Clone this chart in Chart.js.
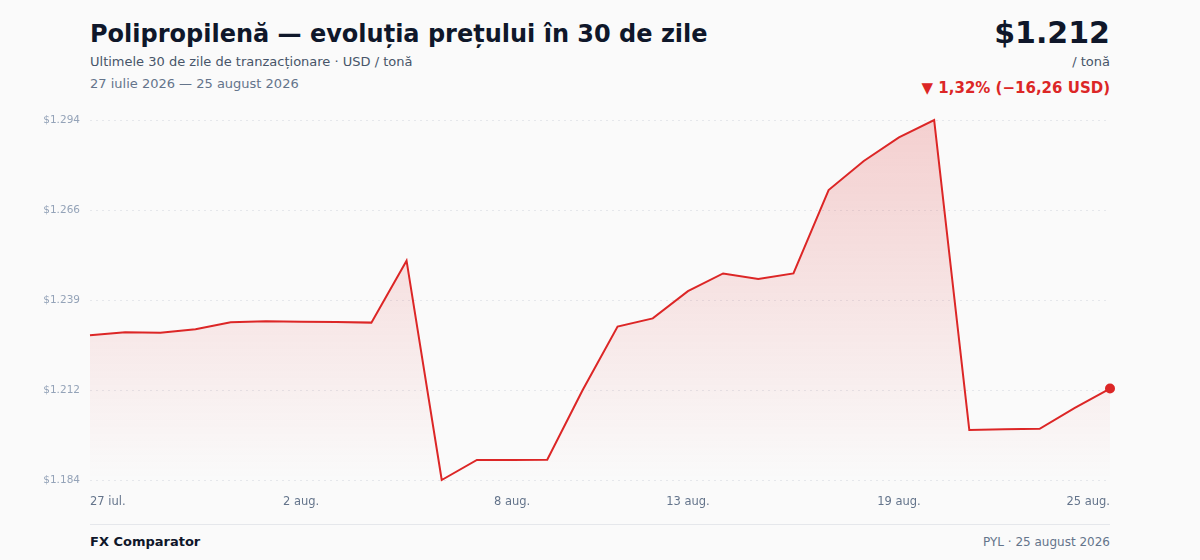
<!DOCTYPE html>
<html lang="ro">
<head>
<meta charset="utf-8">
<title>Polipropilenă — evoluția prețului</title>
<script src="https://cdn.jsdelivr.net/npm/chart.js@4.4.1/dist/chart.umd.min.js"></script>
<style>
  html, body { margin: 0; padding: 0; }
  body {
    width: 1200px; height: 560px; overflow: hidden;
    background: #fafafa;
    font-family: "DejaVu Sans", sans-serif;
    position: relative;
  }
  .title { position: absolute; left: 90px; top: 20px; font-size: 24px; font-weight: bold; color: #0f172a; }
  .sub { position: absolute; left: 90px; top: 54px; font-size: 13px; color: #475569; }
  .dates { position: absolute; left: 90px; top: 76px; font-size: 13px; color: #64748b; }
  .price { position: absolute; right: 90px; top: 15px; font-size: 30px; font-weight: bold; color: #0f172a; }
  .unit { position: absolute; right: 90px; top: 54px; font-size: 13px; color: #475569; }
  .change { position: absolute; right: 90px; top: 79px; font-size: 15px; font-weight: bold; color: #dc2626; }
  .chart-box { position: absolute; left: 0; top: 100px; width: 1200px; height: 420px; }
  .footer-line { position: absolute; left: 90px; width: 1020px; top: 524px; height: 1px; background: #e5e7eb; }
  .brand { position: absolute; left: 90px; top: 534px; font-size: 13px; font-weight: bold; color: #0f172a; }
  .source { position: absolute; right: 90px; top: 535px; font-size: 12px; color: #64748b; }
</style>
</head>
<body>
<div class="title">Polipropilenă — evoluția prețului în 30 de zile</div>
<div class="sub">Ultimele 30 de zile de tranzacționare · USD / tonă</div>
<div class="dates">27 iulie 2026 — 25 august 2026</div>
<div class="price">$1.212</div>
<div class="unit">/ tonă</div>
<div class="change">▼ 1,32% (−16,26 USD)</div>

<div class="chart-box"><canvas id="priceChart"></canvas></div>

<div class="footer-line"></div>
<div class="brand">FX Comparator</div>
<div class="source">PYL · 25 august 2026</div>

<script>
// ----------------------------
// Data (USD / tonă, zilnic)
// ----------------------------
const days = [
  "27 iul.", "28 iul.", "29 iul.", "30 iul.", "31 iul.",
  "1 aug.", "2 aug.", "3 aug.", "4 aug.", "5 aug.",
  "6 aug.", "7 aug.", "8 aug.", "9 aug.", "10 aug.",
  "11 aug.", "12 aug.", "13 aug.", "14 aug.", "15 aug.",
  "16 aug.", "17 aug.", "18 aug.", "19 aug.", "20 aug.",
  "21 aug.", "22 aug.", "23 aug.", "24 aug.", "25 aug."
];
const prices = [
  1228.26, 1229.15, 1229.0, 1230.1, 1232.2,
  1232.5, 1232.4, 1232.3, 1232.1, 1251.0,
  1184.1, 1190.2, 1190.2, 1190.3, 1211.4,
  1230.9, 1233.4, 1241.7, 1247.1, 1245.4,
  1247.1, 1272.55, 1281.4, 1288.6, 1293.9,
  1199.35, 1199.6, 1199.7, 1206.1, 1212.0
];
// labels shown under the axis
const shownDays = ["27 iul.", "2 aug.", "8 aug.", "13 aug.", "19 aug.", "25 aug."];

const yMin = Math.min(...prices);
const yMax = Math.max(...prices);
const usd = new Intl.NumberFormat("ro-RO", { maximumFractionDigits: 0 });

// ----------------------------
// Chart
// ----------------------------
const ctx = document.getElementById("priceChart");

new Chart(ctx, {
  type: "line",
  data: {
    labels: days,
    datasets: [{
      data: prices,
      borderColor: "#dc2626",
      borderWidth: 2,
      tension: 0,
      fill: "start",
      backgroundColor: (c) => {
        const area = c.chart.chartArea;
        if (!area) return "rgba(220,38,38,0.1)";
        const g = c.chart.ctx.createLinearGradient(0, area.top, 0, area.bottom);
        g.addColorStop(0, "rgba(220,38,38,0.20)");
        g.addColorStop(1, "rgba(220,38,38,0.0)");
        return g;
      },
      pointRadius: prices.map((_, i) => (i === prices.length - 1 ? 5 : 0)),
      pointBackgroundColor: "#dc2626",
      pointBorderWidth: 0,
      clip: false,
    }],
  },
  options: {
    responsive: true,
    maintainAspectRatio: false,
    animation: false,
    layout: { padding: { left: 30, right: 90, top: 20, bottom: 0 } },
    plugins: { legend: { display: false }, tooltip: { enabled: false } },
    scales: {
      x: {
        grid: { display: false, drawTicks: false },
        border: { display: false },
        afterFit: (s) => { s.height = 40; },
        ticks: {
          autoSkip: false,
          maxRotation: 0,
          align: "inner",
          padding: 15,
          color: "#64748b",
          font: { family: "DejaVu Sans", size: 11.5 },
          callback: (v, i) => (shownDays.includes(days[i]) ? days[i] : null),
        },
      },
      y: {
        min: yMin,
        max: yMax,
        afterFit: (s) => { s.width = 60; },
        afterBuildTicks: (s) => {
          s.ticks = [0, 1, 2, 3, 4].map((k) => ({ value: yMin + (yMax - yMin) * k / 4 }));
        },
        grid: { color: "#e5e7eb", drawTicks: false },
        border: { display: false, dash: [2, 4] },
        ticks: {
          padding: 10,
          color: "#94a3b8",
          font: { family: "DejaVu Sans", size: 10.5 },
          callback: (v) => "$" + usd.format(v),
        },
      },
    },
  },
});
</script>
</body>
</html>
